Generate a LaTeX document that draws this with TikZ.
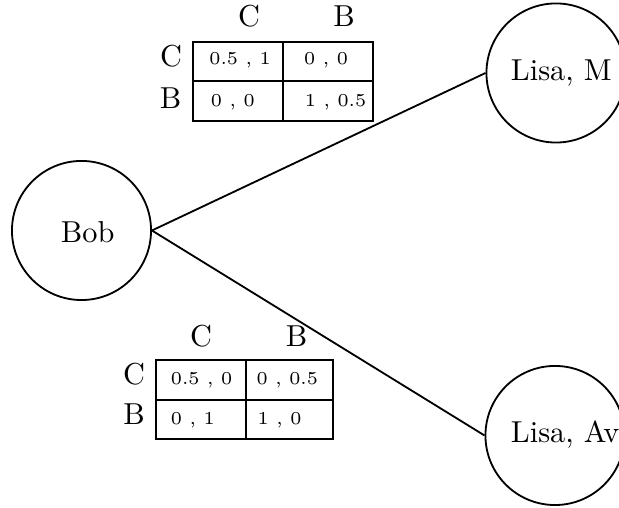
\documentclass[tikz,border=0pt]{standalone}
\begin{document}
\begin{tikzpicture}[x=0.33pt,y=-0.33pt,line width=0.6pt,
  player/.style={circle,draw,minimum size=45.9pt,inner sep=0pt},
  lbl/.style={anchor=base,inner sep=0pt},
  ptext/.style={anchor=base west,inner sep=0pt},
  pay/.style={anchor=base west,inner sep=0pt,font=\fontsize{6}{7}\selectfont}]
\useasboundingbox (0,0) rectangle (619,508);
\clip (0,0) rectangle (619,508);

% players
\node[player] (bob) at (81.5,230.5) {};
\node[ptext] (bobtext) at (60,242.7) {Bob};
\node[player] (lm) at (556,73) {};
\node[ptext] (lmtext) at (510,81) {Lisa, M};
\node[player] (la) at (555,435.5) {};
\node[ptext] (latext) at (510,442.7) {Lisa, Av};

\draw (bob.east) -- (lm.west);
\draw (bob.east) -- (la.west);

% payoff matrix against Lisa, M
\draw (193.3,41.7) rectangle (372.7,120.7);
\draw (193.3,81) -- (372.7,81);
\draw (283.3,41.7) -- (283.3,120.7);
\node[lbl] (tc) at (249,26.7) {C};
\node[lbl] (tb) at (344,26.7) {B};
\node[lbl] (trc) at (171,66.7) {C};
\node[lbl] (trb) at (170.7,108.3) {B};
\node[pay] (t11) at (208.5,65) {0.5 , 1};
\node[pay] (t12) at (303.3,65) {0 , 0};
\node[pay] (t21) at (210,106.7) {0 , 0};
\node[pay] (t22) at (304,106.7) {1 , 0.5};

% payoff matrix against Lisa, Av
\draw (156,360) rectangle (332.7,439);
\draw (156,400) -- (332.7,400);
\draw (245.7,360) -- (245.7,439);
\node[lbl] (bc) at (201,346.7) {C};
\node[lbl] (bb) at (296.7,346.7) {B};
\node[lbl] (brc) at (134,385) {C};
\node[lbl] (brb) at (134,425) {B};
\node[pay] (b11) at (170,384.3) {0.5 , 0};
\node[pay] (b12) at (255.7,384.3) {0 , 0.5};
\node[pay] (b21) at (170,425) {0 , 1};
\node[pay] (b22) at (256.7,425) {1 , 0};
\end{tikzpicture}
\end{document}
